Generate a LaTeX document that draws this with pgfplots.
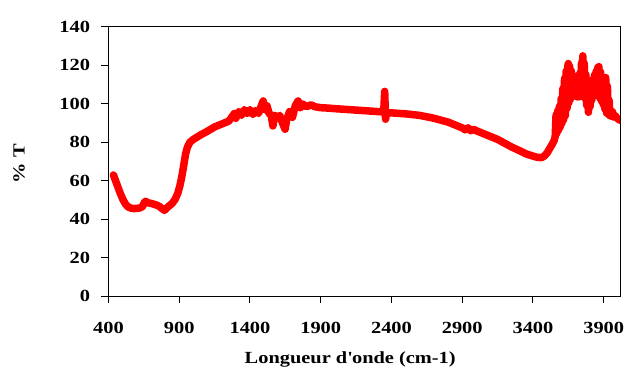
\documentclass[border=0pt]{standalone}
\usepackage{fontspec}
\setmainfont{Liberation Serif}[FakeStretch=1.2]
\usepackage{pgfplots}
\pgfplotsset{compat=1.18}
\begin{document}
\begin{tikzpicture}
\path[use as bounding box] (-108.5bp,-75bp) rectangle (518.5bp,296bp);
\begin{axis}[
  at={(0,0)}, anchor=south west,
  scale only axis, width=511.5bp, height=269bp,
  xmin=400, xmax=4015, ymin=0, ymax=140,
  xtick={400,900,1400,1900,2400,2900,3400,3900},
  ytick={0,20,40,60,80,100,120,140},
  tick pos=left, tick align=outside, major tick length=7bp,
  axis line style={line width=1bp, black},
  every tick/.style={black, line width=1bp},
  /pgf/number format/assume math mode=true,
  /pgf/number format/set thousands separator={},
  ticklabel style={font=\fontsize{17bp}{20bp}\selectfont\bfseries},
  xticklabel style={yshift=-16bp},
  yticklabel style={xshift=-8bp},
  label style={font=\fontsize{17bp}{20bp}\selectfont\bfseries},
  xlabel={Longueur d\textquotesingle onde (cm-1)},
  ylabel={\% T},
  xlabel style={at={(axis description cs:0.4726,-0.1933)}, anchor=north},
  ylabel style={at={(axis description cs:-0.175,0.4926)}, anchor=center},
]
\addplot[color=red, line width=7.5bp, line join=round, line cap=round] coordinates {
(435,63) (445,61) (460,58) (480,54) (500,50.5) (520,47.8) (540,46.3) (560,45.7) (580,45.5) (600,45.6) (620,45.8) (640,46.5)
(652,48.5) (662,49.3) (680,48.5) (700,48.2) (720,47.8) (740,47.3) (760,46.6) (780,45.4) (795,44.6) (812,45.8) (830,47)
(850,48.2) (870,50.2) (890,53.5) (905,57.5) (915,61) (925,65) (935,69.5) (945,74) (958,77.5) (975,80) (1000,81.5)
(1050,83.8) (1100,85.8) (1150,88) (1200,89.5) (1250,91)
(1270,93) (1290,95) (1300,92.5) (1320,96) (1340,94) (1360,97) (1380,95) (1400,97) (1420,94.5) (1440,96.5) (1460,95)
(1480,99) (1493,101.5) (1505,97) (1520,99) (1535,95) (1550,94) (1562,88.5) (1575,94) (1590,92.5) (1610,94) (1630,90)
(1648,86.8) (1660,92) (1680,96) (1700,93) (1720,99) (1740,101.5) (1755,98) (1770,100) (1800,98.5) (1830,99.5) (1860,98.5)
(1900,98) (1950,97.8) (2000,97.5) (2100,97) (2200,96.5) (2300,96) (2345,95.8) (2352,106.5) (2358,92) (2366,95.5)
(2400,95.3) (2500,94.8) (2600,94) (2700,92.5) (2800,90.5) (2850,89) (2900,87.5) (2920,86.5) (2940,87.5) (2960,86)
(2980,86.8) (3000,86) (3050,84.5) (3100,83) (3150,81.5) (3200,79.5) (3250,77.5) (3300,75.8) (3350,74) (3400,72.8)
(3430,72.2) (3460,72) (3480,72.8) (3500,74.5) (3520,77) (3540,79.5) (3550,81)
(3557,83) (3563,94.2) (3569,84.7) (3575,96.5) (3581,86.3) (3587,98.8) (3593,88) (3599,102.7) (3605,89.9) (3611,108)
(3617,91.8) (3623,113.3) (3629,93.8) (3635,117.1) (3641,97.7) (3647,119.9) (3650,121) (3653,100.5) (3659,119.6)
(3665,102.4) (3671,117.2) (3677,104.1) (3683,114.8) (3689,105.4) (3695,113.5) (3701,104.5) (3707,112.9) (3713,103.6)
(3719,112.2) (3725,103.6) (3731,116) (3737,106.1) (3743,121.4) (3749,108.6) (3752,125) (3757,107) (3762,121.2)
(3768,102.7) (3774,115.3) (3780,99.1) (3786,110) (3792,95.6) (3798,108) (3804,98.6) (3810,110.3) (3816,102)
(3822,112.6) (3828,105.4) (3834,114.9) (3840,105.2) (3846,116.9) (3852,104.6) (3858,119) (3864,104) (3866,119.4)
(3872,103) (3878,116.6) (3884,101.5) (3890,112.6) (3896,99.7) (3902,112.9) (3908,97.3) (3914,113.7) (3920,95.2)
(3926,109.2) (3932,94.5) (3938,101.9) (3944,93.8) (3950,96.2) (3956,93.5) (3962,95.9) (3970,93.2) (3980,94)
(3990,92.8) (4000,92.3) (4012,91.5)
};
\end{axis}
\end{tikzpicture}
\end{document}
